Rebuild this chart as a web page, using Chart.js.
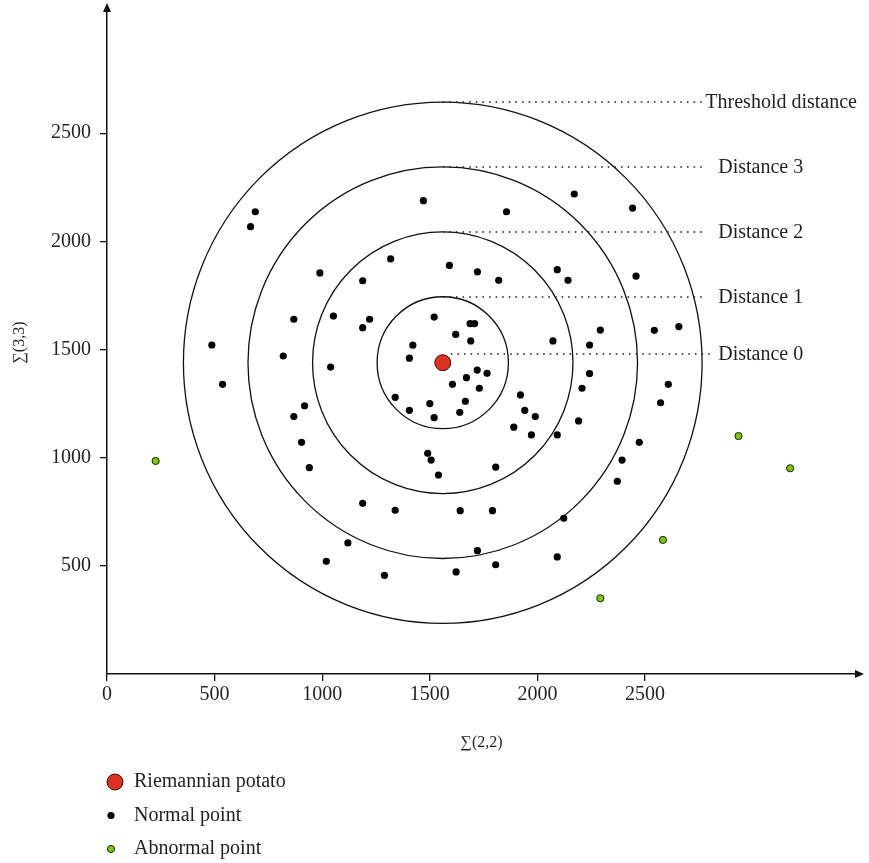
<!DOCTYPE html>
<html>
<head>
<meta charset="utf-8">
<script src="https://cdn.jsdelivr.net/npm/chart.js@4.4.0/dist/chart.umd.min.js"></script>
<style>
  body { margin: 0; background: #fff; }
</style>
</head>
<body>
<canvas id="potatoChart" width="869" height="863"></canvas>
<script>
// points
const potatoX = [1560];
const potatoY = [1439];

const normalX = [689, 667, 989, 1188, 1318, 868, 1052, 1220, 1188, 487, 819, 1039,
    1470, 1856, 2171, 2442, 1591, 1721, 1820, 2092, 2142, 2458, 1520, 1687, 1708, 1620,
    1690, 1421, 1405, 1720, 1766, 1670, 2072, 2242, 2292, 2242, 2543, 2657, 537, 1339,
    918, 868, 904, 940, 1188, 1339, 1119, 1019, 1289, 1605, 1730, 2207, 1921, 1665,
    1500, 1405, 1639, 1941, 1990, 1520, 2191, 1890, 1972, 2092, 2473, 1490, 1506, 1540,
    1806, 2371, 2393, 2608, 2572, 1641, 1791, 2122, 1721, 2092, 1806, 1622];
const normalY = [2137, 2068, 1854, 1818, 1919, 1640, 1655, 1640, 1601, 1521, 1470, 1419,
    2188, 2137, 2219, 2154, 1889, 1859, 1820, 1869, 1820, 1839, 1650, 1620, 1620, 1570,
    1540, 1520, 1460, 1405, 1390, 1370, 1540, 1521, 1590, 1389, 1589, 1606, 1339, 1279,
    1240, 1190, 1071, 954, 789, 757, 606, 521, 456, 1339, 1321, 1321, 1290, 1261,
    1250, 1219, 1210, 1219, 1190, 1185, 1170, 1141, 1105, 1105, 1071, 1020, 989, 920,
    956, 891, 989, 1339, 1254, 755, 755, 720, 570, 541, 505, 472];

const abnormalX = [226, 2934, 3174, 2583, 2292];
const abnormalY = [985, 1100, 951, 620, 350];

// rings around the potato
const ringRadii = [305, 605, 905, 1205];
const distanceLabels = ['Distance 0', 'Distance 1', 'Distance 2', 'Distance 3', 'Threshold distance'];
const distanceLevels = [40, 305, 605, 905, 1205];

const xTicks = [0, 500, 1000, 1500, 2000, 2500];
const yTicks = [500, 1000, 1500, 2000, 2500];

const serif = "'Liberation Serif', 'DejaVu Serif', serif";
const ink = '#231f20';

function toPoints(xs, ys) {
    return xs.map((x, i) => ({ x: x, y: ys[i] }));
}

const ringsPlugin = {
    id: 'rings',
    beforeDatasetsDraw(chart) {
        const ctx = chart.ctx;
        const xs = chart.scales.x;
        const ys = chart.scales.y;
        const cx = xs.getPixelForValue(potatoX[0]);
        const cy = ys.getPixelForValue(potatoY[0]);
        ctx.save();
        ctx.strokeStyle = '#111';
        ctx.lineWidth = 1.3;
        ringRadii.forEach(r => {
            const rx = xs.getPixelForValue(potatoX[0] + r) - cx;
            const ry = cy - ys.getPixelForValue(potatoY[0] + r);
            ctx.beginPath();
            ctx.ellipse(cx, cy, rx, ry, 0, 0, Math.PI * 2);
            ctx.stroke();
        });

        // dotted leaders + labels
        ctx.setLineDash([1.6, 5]);
        ctx.lineWidth = 1.6;
        ctx.strokeStyle = '#222';
        ctx.fillStyle = ink;
        ctx.font = '20px ' + serif;
        ctx.textBaseline = 'middle';
        distanceLevels.forEach((lv, i) => {
            const y = Math.round(ys.getPixelForValue(potatoY[0] + lv));
            const isZero = i === 0;
            const isLast = i === distanceLevels.length - 1;
            const x0 = isZero ? cx + 8 : cx;
            const x1 = xs.getPixelForValue(isZero ? 2810 : 2770);
            ctx.beginPath();
            ctx.moveTo(x0, y);
            ctx.lineTo(x1, y);
            ctx.stroke();
            const tx = xs.getPixelForValue(isLast ? 2780 : 2840);
            ctx.fillText(distanceLabels[i], tx, y + 1);
        });
        ctx.restore();
    }
};

const axisArrows = {
    id: 'axisArrows',
    afterDraw(chart) {
        const ctx = chart.ctx;
        const a = chart.chartArea;
        ctx.save();
        ctx.fillStyle = '#111';
        ctx.beginPath();
        ctx.moveTo(a.left, a.top - 8);
        ctx.lineTo(a.left - 4, a.top + 1);
        ctx.lineTo(a.left + 4, a.top + 1);
        ctx.closePath();
        ctx.fill();
        ctx.beginPath();
        ctx.moveTo(a.right + 8, a.bottom);
        ctx.lineTo(a.right - 1, a.bottom - 4);
        ctx.lineTo(a.right - 1, a.bottom + 4);
        ctx.closePath();
        ctx.fill();
        ctx.restore();
    }
};

// vertical legend under the x axis
const stackedLegend = {
    id: 'stackedLegend',
    afterDraw(chart) {
        const ctx = chart.ctx;
        ctx.save();
        ctx.font = '20px ' + serif;
        ctx.textBaseline = 'middle';
        chart.data.datasets.forEach((ds, i) => {
            const y = 782 + i * 33.5;
            const mx = i === 0 ? 115 : 111;
            ctx.beginPath();
            ctx.arc(mx, y, ds.pointRadius, 0, Math.PI * 2);
            ctx.fillStyle = ds.backgroundColor;
            ctx.fill();
            if (ds.borderWidth) {
                ctx.lineWidth = ds.borderWidth;
                ctx.strokeStyle = ds.borderColor;
                ctx.stroke();
            }
            ctx.fillStyle = ink;
            ctx.fillText(ds.label, 134, y);
        });
        ctx.restore();
    }
};

const ctxPotato = document.getElementById('potatoChart').getContext('2d');
const potatoChart = new Chart(ctxPotato, {
    type: 'scatter',
    data: {
        datasets: [
            {
                label: 'Riemannian potato',
                data: toPoints(potatoX, potatoY),
                pointRadius: 8,
                backgroundColor: '#d93222',
                borderColor: '#3a1208',
                borderWidth: 1
            },
            {
                label: 'Normal point',
                data: toPoints(normalX, normalY),
                pointRadius: 3.6,
                backgroundColor: '#000',
                borderColor: '#000',
                borderWidth: 0
            },
            {
                label: 'Abnormal point',
                data: toPoints(abnormalX, abnormalY),
                pointRadius: 3.6,
                backgroundColor: '#7dc411',
                borderColor: '#1c2608',
                borderWidth: 1
            }
        ]
    },
    options: {
        responsive: false,
        devicePixelRatio: 1,
        animation: false,
        layout: {
            padding: { top: 11, right: 13, bottom: 107, left: 0 }
        },
        scales: {
            x: {
                type: 'linear',
                min: 0,
                max: 3480,
                afterFit: function (scale) { scale.height = 82; },
                afterBuildTicks: function (scale) {
                    scale.ticks = xTicks.map(v => ({ value: v }));
                },
                grid: { drawOnChartArea: false, drawTicks: true, tickLength: 7, color: '#111', lineWidth: 1.3 },
                border: { display: true, color: '#111', width: 1.5 },
                ticks: {
                    color: ink, padding: 2, maxRotation: 0,
                    font: { family: serif, size: 20 },
                    callback: v => String(v)
                },
                title: {
                    display: true,
                    text: '∑(2,2)',
                    color: ink,
                    font: { family: serif, size: 16 },
                    padding: { top: 4, bottom: 4 }
                }
            },
            y: {
                type: 'linear',
                min: 0,
                max: 3065,
                afterFit: function (scale) {
                    scale.width = 107;
                    // top label is far from the edge, no extra room needed
                    scale.paddingTop = 0;
                    scale.paddingBottom = 0;
                },
                afterBuildTicks: function (scale) {
                    scale.ticks = yTicks.map(v => ({ value: v }));
                },
                grid: { drawOnChartArea: false, drawTicks: true, tickLength: 7, color: '#111', lineWidth: 1.3 },
                border: { display: true, color: '#111', width: 1.5 },
                ticks: {
                    color: ink, padding: 9,
                    font: { family: serif, size: 20 },
                    callback: v => String(v)
                },
                title: {
                    display: true,
                    text: '∑(3,3)',
                    color: ink,
                    font: { family: serif, size: 16 },
                    padding: { top: 10, bottom: 4 }
                }
            }
        },
        plugins: {
            legend: { display: false },
            tooltip: { enabled: false }
        }
    },
    plugins: [ringsPlugin, axisArrows, stackedLegend]
});
</script>
</body>
</html>
